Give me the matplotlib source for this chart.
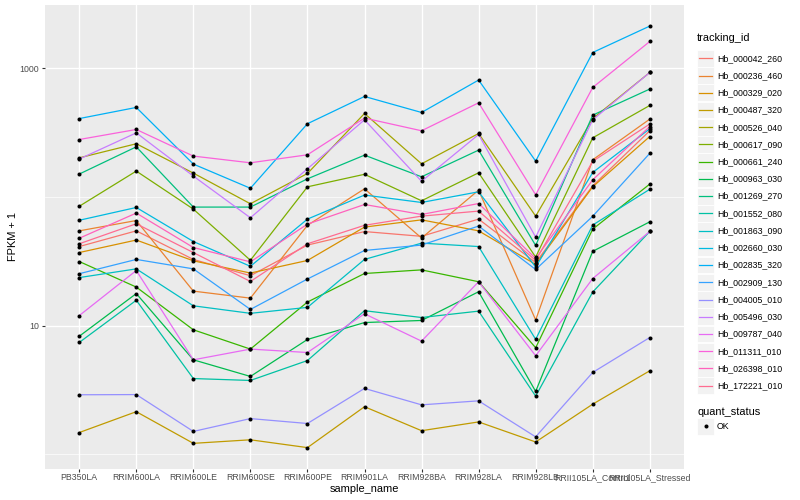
import numpy as np
import matplotlib
matplotlib.use("Agg")
import matplotlib.pyplot as plt
from matplotlib.ticker import FixedLocator, FixedFormatter
from matplotlib.patches import Rectangle
from matplotlib.lines import Line2D

plt.rcParams['font.family'] = ['Liberation Sans', 'DejaVu Sans']

samples = ['PB350LA', 'RRIM600LA', 'RRIM600LE', 'RRIM600SE', 'RRIM600PE', 'RRIM901LA',
           'RRIM928BA', 'RRIM928LA', 'RRIM928LB', 'RRII105LA_Control', 'RRII105LA_Stressed']

# FPKM + 1 per sample, one list per gene
hb_000042_260 = [41.3, 54.7, 32.8, 24.5, 42.4, 54.0, 49.6, 67.5, 31.0, 122.5, 328]
hb_000236_460 = [54.7, 65.8, 18.6, 16.4, 60.4, 116.1, 48.1, 113.4, 11.1, 195.1, 404]
hb_000329_020 = [37.1, 46.4, 32.0, 25.7, 32.2, 58.5, 66.6, 54.7, 30.0, 120.3, 296]
hb_000487_320 = [1.48, 2.15, 1.22, 1.30, 1.13, 2.35, 1.53, 1.79, 1.25, 2.46, 4.47]
hb_000526_040 = [202, 260, 153.8, 88.8, 152.7, 447, 181.6, 312.5, 71.2, 408, 931]
hb_000617_090 = [84.9, 159.4, 80.7, 32.3, 120.3, 150.5, 93.7, 154.6, 34.2, 289, 516]
hb_000661_240 = [31.6, 20.0, 9.31, 6.59, 15.3, 25.5, 27.2, 22.0, 6.75, 56.4, 126.3]
hb_000963_030 = [8.29, 17.8, 5.44, 4.04, 7.83, 10.6, 11.0, 18.4, 3.09, 37.9, 64.3]
hb_001269_270 = [151.1, 246, 83.7, 83.7, 138.8, 212, 143.9, 232, 42.1, 434, 692]
hb_001552_080 = [7.42, 15.8, 3.89, 3.76, 5.37, 13.1, 11.6, 13.0, 2.84, 18.3, 54.1]
hb_001863_090 = [23.7, 27.7, 14.3, 12.5, 13.9, 32.8, 43.9, 41.3, 7.85, 60.7, 115.1]
hb_002660_030 = [66.1, 83.1, 45.2, 29.0, 67.5, 103.8, 90.9, 110.0, 28.6, 155.5, 340]
hb_002835_320 = [408, 498, 180.7, 117.2, 372, 606, 455, 813, 190.6, 1331, 2136]
hb_002909_130 = [25.4, 32.8, 27.7, 13.4, 23.1, 38.5, 42.4, 59.6, 27.4, 71.0, 219]
hb_004005_010 = [2.91, 2.92, 1.51, 1.90, 1.74, 3.26, 2.43, 2.61, 1.37, 4.34, 8.11]
hb_005496_030 = [197.6, 316, 145.8, 69.1, 166.1, 399, 132.8, 306.9, 48.9, 399, 931]
hb_009787_040 = [12.0, 26.9, 5.44, 6.59, 6.20, 12.4, 7.60, 22.0, 5.85, 23.3, 54.1]
hb_011311_010 = [280.5, 335.6, 208.5, 184.9, 213.4, 411.6, 328, 541, 104.3, 712, 1621]
hb_026398_010 = [47.9, 75.2, 40.6, 31.4, 61.7, 87.7, 73.3, 89.2, 33.4, 136.4, 354]
hb_172221_010 = [43.4, 62.1, 37.1, 22.1, 43.4, 60.4, 71.2, 77.9, 32.2, 189.9, 370]

tracking_ids = ['Hb_000042_260', 'Hb_000236_460', 'Hb_000329_020', 'Hb_000487_320',
                'Hb_000526_040', 'Hb_000617_090', 'Hb_000661_240', 'Hb_000963_030',
                'Hb_001269_270', 'Hb_001552_080', 'Hb_001863_090', 'Hb_002660_030',
                'Hb_002835_320', 'Hb_002909_130', 'Hb_004005_010', 'Hb_005496_030',
                'Hb_009787_040', 'Hb_011311_010', 'Hb_026398_010', 'Hb_172221_010']
values = [hb_000042_260, hb_000236_460, hb_000329_020, hb_000487_320, hb_000526_040,
          hb_000617_090, hb_000661_240, hb_000963_030, hb_001269_270, hb_001552_080,
          hb_001863_090, hb_002660_030, hb_002835_320, hb_002909_130, hb_004005_010,
          hb_005496_030, hb_009787_040, hb_011311_010, hb_026398_010, hb_172221_010]

# ggplot default hue palette for 20 levels
colors = ['#F8766D', '#EA8331', '#D89000', '#C09B00', '#A3A500', '#7CAE00', '#39B600',
          '#00BB4E', '#00BF7D', '#00C1A3', '#00BFC4', '#00BAE0', '#00B0F6', '#35A2FF',
          '#9590FF', '#C77CFF', '#E76BF3', '#FA62DB', '#FF62BC', '#FF6C91']

W, H = 800, 500
fig = plt.figure(figsize=(8, 5), dpi=100)
ax = fig.add_axes([45 / W, 1 - 468.7 / H, (684 - 45) / W, (468.7 - 5) / H])
ax.set_facecolor('#EBEBEB')

x = np.arange(len(samples))
for vals, col in zip(values, colors):
    ax.plot(x, vals, color=col, lw=0.9, zorder=2)
for vals in values:
    ax.plot(x, vals, 'o', color='black', ms=2.9, mew=0, zorder=3)

ax.set_yscale('log')
allv = np.log10(np.concatenate([np.array(v, dtype=float) for v in values]))
lo, hi = allv.min(), allv.max()
pad = 0.05 * (hi - lo)
ax.set_ylim(10 ** (lo - pad), 10 ** (hi + pad))
ax.set_xlim(-0.6, len(samples) - 0.4)

ax.yaxis.set_major_locator(FixedLocator([10, 1000]))
ax.yaxis.set_major_formatter(FixedFormatter(['10', '1000']))
ax.yaxis.set_minor_locator(FixedLocator([1, 100]))
ax.yaxis.set_minor_formatter(FixedFormatter(['', '']))
ax.set_xticks(x)
ax.set_xticklabels(samples)

ax.grid(which='major', color='white', lw=1.0)
ax.grid(which='minor', axis='y', color='white', lw=0.5)
ax.set_axisbelow(True)
for s in ax.spines.values():
    s.set_visible(False)
ax.tick_params(which='major', length=2.5, width=0.8, color='#333333',
               labelsize=6.3, labelcolor='#4D4D4D', pad=2)
ax.tick_params(axis='x', which='major', pad=0.8)
ax.tick_params(which='minor', length=0)

ax.set_xlabel('sample_name', fontsize=7.9, labelpad=1.2)
ax.set_ylabel('FPKM + 1', fontsize=7.9, labelpad=0.5)

# legend: tracking_id
def fx(px):
    return px / W

def fy(py):
    return 1 - py / H

fig.text(fx(697), fy(38), 'tracking_id', fontsize=7.9, va='center', ha='left')
for i, (tid, col) in enumerate(zip(tracking_ids, colors)):
    cy = 58.3 + i * 17.23
    fig.add_artist(Rectangle((fx(697), fy(cy + 8.4)), 17 / W, 16.8 / H,
                             transform=fig.transFigure, facecolor='#F2F2F2',
                             edgecolor='white', lw=0.6))
    fig.add_artist(Line2D([fx(699), fx(712)], [fy(cy), fy(cy)], color=col, lw=0.9,
                          transform=fig.transFigure))
    fig.text(fx(717), fy(cy), tid, fontsize=6.3, va='center', ha='left')

# legend: quant_status
fig.text(fx(697), fy(412), 'quant_status', fontsize=7.9, va='center', ha='left')
fig.add_artist(Rectangle((fx(697), fy(426.3 + 8.4)), 17 / W, 16.8 / H,
                         transform=fig.transFigure, facecolor='#F2F2F2',
                         edgecolor='white', lw=0.6))
fig.add_artist(Line2D([fx(705.5)], [fy(426.3)], marker='o', color='black', ms=2.9, mew=0,
                      transform=fig.transFigure))
fig.text(fx(717), fy(426.3), 'OK', fontsize=6.3, va='center', ha='left')

fig.savefig('out.png', dpi=100)
